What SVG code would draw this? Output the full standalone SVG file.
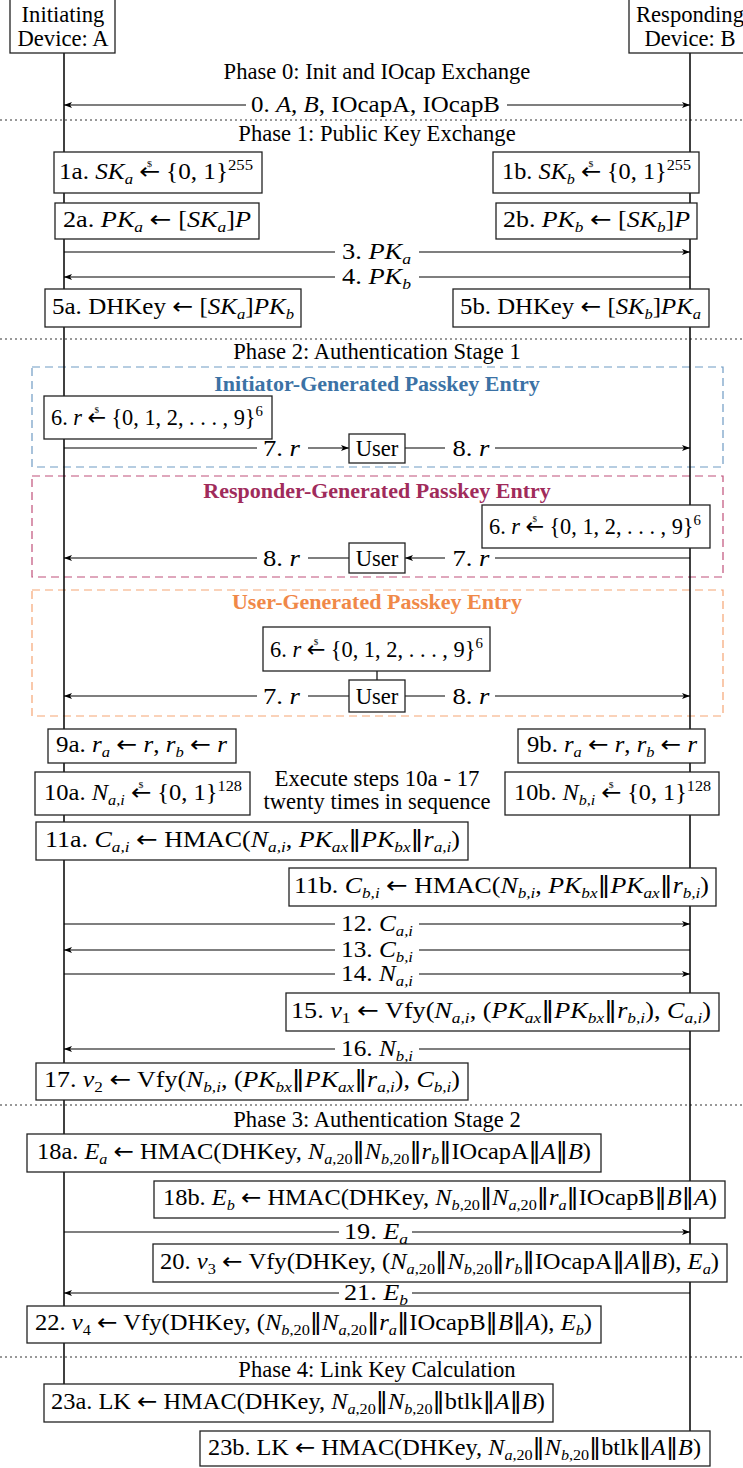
<svg xmlns="http://www.w3.org/2000/svg" width="743" height="1468" viewBox="0 0 743 1468">
<style>
.tx{font-family:"Liberation Serif","Times New Roman","DejaVu Serif",serif;font-size:22.6px;fill:#000}
.i{font-style:italic}
.sb{font-size:15px}
.dl{font-size:9px}
.op{font-family:"DejaVu Sans",sans-serif;font-style:normal}
.bx{fill:#fff;stroke:#222;stroke-width:1.3}
.ll{stroke:#000;stroke-width:1.5;fill:none}
.ar{stroke:#000;stroke-width:1.2;fill:none}
.dot{stroke:#333;stroke-width:1;stroke-dasharray:2,3}
.bg{fill:#fff}
.ttl{font-family:"Liberation Serif","Times New Roman",serif;font-size:22px;font-weight:bold}
</style>
<defs>
<marker id="ah" markerUnits="userSpaceOnUse" markerWidth="9" markerHeight="7" refX="8" refY="3.5" orient="auto-start-reverse"><path d="M0,0.5 L8,3.5 L0,6.5 L2,3.5 z" fill="#000"/></marker>
</defs>
<rect width="743" height="1468" fill="#fff"/>

<g id="phases">
<line class="dot" x1="0" y1="120" x2="743" y2="120"/>
<line class="dot" x1="0" y1="339" x2="743" y2="339"/>
<line class="dot" x1="0" y1="1105" x2="743" y2="1105"/>
<line class="dot" x1="0" y1="1357" x2="743" y2="1357"/>
<text class="tx" x="377" y="79" text-anchor="middle">Phase 0: Init and IOcap Exchange</text>
<text class="tx" x="377" y="141" text-anchor="middle">Phase 1: Public Key Exchange</text>
<text class="tx" x="377" y="359" text-anchor="middle">Phase 2: Authentication Stage 1</text>
<text class="tx" x="377" y="1127" text-anchor="middle">Phase 3: Authentication Stage 2</text>
<text class="tx" x="377" y="1377" text-anchor="middle">Phase 4: Link Key Calculation</text>
</g>

<g id="variants">
<rect x="32" y="367" width="691" height="100" fill="none" stroke="#6f9bc4" stroke-width="1.2" stroke-dasharray="8,5"/>
<text class="ttl" x="377" y="391" text-anchor="middle" fill="#3b72a5">Initiator-Generated Passkey Entry</text>
<rect x="32" y="476" width="691" height="101" fill="none" stroke="#c0507a" stroke-width="1.2" stroke-dasharray="8,5"/>
<text class="ttl" x="377" y="498" text-anchor="middle" fill="#a02b5b">Responder-Generated Passkey Entry</text>
<rect x="32" y="590" width="691" height="126" fill="none" stroke="#f5a574" stroke-width="1.2" stroke-dasharray="8,5"/>
<text class="ttl" x="377" y="609" text-anchor="middle" fill="#f08848">User-Generated Passkey Entry</text>
</g>

<g id="connectors">
<line class="ll" x1="64" y1="53" x2="64" y2="1384"/>
<line class="ll" x1="690" y1="53" x2="690" y2="1431"/>
<line class="ar" x1="64" y1="105" x2="690" y2="105" marker-start="url(#ah)" marker-end="url(#ah)"/>
<line class="ar" x1="64" y1="252" x2="690" y2="252" marker-end="url(#ah)"/>
<line class="ar" x1="690" y1="277" x2="64" y2="277" marker-end="url(#ah)"/>
<line class="ar" x1="64" y1="448" x2="349" y2="448" marker-end="url(#ah)"/>
<line class="ar" x1="405" y1="448" x2="690" y2="448" marker-end="url(#ah)"/>
<line class="ar" x1="690" y1="558" x2="405" y2="558" marker-end="url(#ah)"/>
<line class="ar" x1="349" y1="558" x2="64" y2="558" marker-end="url(#ah)"/>
<line class="ar" x1="349" y1="696" x2="64" y2="696" marker-end="url(#ah)"/>
<line class="ar" x1="405" y1="696" x2="690" y2="696" marker-end="url(#ah)"/>
<line class="ar" x1="377" y1="671" x2="377" y2="680"/>
<line class="ar" x1="64" y1="924" x2="690" y2="924" marker-end="url(#ah)"/>
<line class="ar" x1="690" y1="950" x2="64" y2="950" marker-end="url(#ah)"/>
<line class="ar" x1="64" y1="974" x2="690" y2="974" marker-end="url(#ah)"/>
<line class="ar" x1="690" y1="1049" x2="64" y2="1049" marker-end="url(#ah)"/>
<line class="ar" x1="64" y1="1232" x2="690" y2="1232" marker-end="url(#ah)"/>
<line class="ar" x1="690" y1="1293" x2="64" y2="1293" marker-end="url(#ah)"/>

<rect class="bg" x="246" y="94" width="261" height="22"/>
<rect class="bg" x="335" y="241" width="84" height="22"/>
<rect class="bg" x="335" y="266" width="84" height="22"/>
<rect class="bg" x="257" y="438" width="51" height="20"/>
<rect class="bg" x="445" y="438" width="50" height="20"/>
<rect class="bg" x="445" y="548" width="50" height="20"/>
<rect class="bg" x="257" y="548" width="51" height="20"/>
<rect class="bg" x="257" y="686" width="51" height="20"/>
<rect class="bg" x="445" y="686" width="50" height="20"/>
<rect class="bg" x="335" y="913" width="84" height="22"/>
<rect class="bg" x="335" y="939" width="84" height="22"/>
<rect class="bg" x="335" y="963" width="84" height="22"/>
<rect class="bg" x="335" y="1038" width="84" height="22"/>
<rect class="bg" x="339" y="1221" width="73" height="22"/>
<rect class="bg" x="339" y="1282" width="73" height="22"/>

<text class="tx" x="375.5" y="112" text-anchor="middle" textLength="249" lengthAdjust="spacingAndGlyphs">0. <tspan class="i">A</tspan>, <tspan class="i">B</tspan>, IOcapA, IOcapB</text>
<text class="tx" x="376.5" y="259" text-anchor="middle" textLength="69" lengthAdjust="spacingAndGlyphs">3. <tspan class="i">PK</tspan><tspan class="sb i" dy="5">a</tspan></text>
<text class="tx" x="376.5" y="284" text-anchor="middle" textLength="69" lengthAdjust="spacingAndGlyphs">4. <tspan class="i">PK</tspan><tspan class="sb i" dy="5">b</tspan></text>
<text class="tx" x="281.5" y="456" text-anchor="middle" textLength="37" lengthAdjust="spacingAndGlyphs">7. <tspan class="i">r</tspan></text>
<text class="tx" x="471" y="456" text-anchor="middle" textLength="37" lengthAdjust="spacingAndGlyphs">8. <tspan class="i">r</tspan></text>
<text class="tx" x="471" y="566" text-anchor="middle" textLength="37" lengthAdjust="spacingAndGlyphs">7. <tspan class="i">r</tspan></text>
<text class="tx" x="281.5" y="566" text-anchor="middle" textLength="37" lengthAdjust="spacingAndGlyphs">8. <tspan class="i">r</tspan></text>
<text class="tx" x="281.5" y="704" text-anchor="middle" textLength="37" lengthAdjust="spacingAndGlyphs">7. <tspan class="i">r</tspan></text>
<text class="tx" x="471" y="704" text-anchor="middle" textLength="37" lengthAdjust="spacingAndGlyphs">8. <tspan class="i">r</tspan></text>
<text class="tx" x="377" y="931" text-anchor="middle" textLength="72" lengthAdjust="spacingAndGlyphs">12. <tspan class="i">C</tspan><tspan class="sb i" dy="5">a,i</tspan></text>
<text class="tx" x="377" y="957" text-anchor="middle" textLength="72" lengthAdjust="spacingAndGlyphs">13. <tspan class="i">C</tspan><tspan class="sb i" dy="5">b,i</tspan></text>
<text class="tx" x="377" y="981" text-anchor="middle" textLength="72" lengthAdjust="spacingAndGlyphs">14. <tspan class="i">N</tspan><tspan class="sb i" dy="5">a,i</tspan></text>
<text class="tx" x="377" y="1056" text-anchor="middle" textLength="72" lengthAdjust="spacingAndGlyphs">16. <tspan class="i">N</tspan><tspan class="sb i" dy="5">b,i</tspan></text>
<text class="tx" x="376" y="1239" text-anchor="middle" textLength="64" lengthAdjust="spacingAndGlyphs">19. <tspan class="i">E</tspan><tspan class="sb i" dy="5">a</tspan></text>
<text class="tx" x="376" y="1300" text-anchor="middle" textLength="64" lengthAdjust="spacingAndGlyphs">21. <tspan class="i">E</tspan><tspan class="sb i" dy="5">b</tspan></text>
</g>

<g id="hdrA"><rect class="bx" x="10" y="-2" width="105" height="55"/>
<text class="tx" x="63" y="22" text-anchor="middle">Initiating</text>
<text class="tx" x="63" y="46" text-anchor="middle">Device: A</text></g>
<g id="hdrB"><rect class="bx" x="629" y="-2" width="120" height="55"/>
<text class="tx" x="690" y="22" text-anchor="middle">Responding</text>
<text class="tx" x="690" y="46" text-anchor="middle">Device: B</text></g>

<g id="n1a"><rect class="bx" x="54" y="152" width="208" height="41"/>
<text class="tx" x="156" y="179" text-anchor="middle" textLength="194" lengthAdjust="spacingAndGlyphs">1a. <tspan class="i">SK</tspan><tspan class="sb i" dy="5">a</tspan><tspan dy="-5"> </tspan><tspan class="op">←</tspan><tspan class="dl" dx="-12" dy="-12">$</tspan><tspan dx="7" dy="12"> {0, 1}</tspan><tspan class="sb" dy="-9">255</tspan></text></g>
<g id="n1b"><rect class="bx" x="493" y="152" width="206" height="41"/>
<text class="tx" x="596.5" y="179" text-anchor="middle" textLength="189" lengthAdjust="spacingAndGlyphs">1b. <tspan class="i">SK</tspan><tspan class="sb i" dy="5">b</tspan><tspan dy="-5"> </tspan><tspan class="op">←</tspan><tspan class="dl" dx="-12" dy="-12">$</tspan><tspan dx="7" dy="12"> {0, 1}</tspan><tspan class="sb" dy="-9">255</tspan></text></g>
<g id="n2a"><rect class="bx" x="55" y="203" width="204" height="36"/>
<text class="tx" x="157" y="227" text-anchor="middle" textLength="188" lengthAdjust="spacingAndGlyphs">2a. <tspan class="i">PK</tspan><tspan class="sb i" dy="5">a</tspan><tspan dy="-5"> </tspan><tspan class="op">←</tspan> [<tspan class="i">SK</tspan><tspan class="sb i" dy="5">a</tspan><tspan dy="-5">]</tspan><tspan class="i">P</tspan></text></g>
<g id="n2b"><rect class="bx" x="496" y="203" width="201" height="36"/>
<text class="tx" x="596.5" y="227" text-anchor="middle" textLength="187" lengthAdjust="spacingAndGlyphs">2b. <tspan class="i">PK</tspan><tspan class="sb i" dy="5">b</tspan><tspan dy="-5"> </tspan><tspan class="op">←</tspan> [<tspan class="i">SK</tspan><tspan class="sb i" dy="5">b</tspan><tspan dy="-5">]</tspan><tspan class="i">P</tspan></text></g>
<g id="n5a"><rect class="bx" x="45" y="289" width="256" height="38"/>
<text class="tx" x="173" y="314" text-anchor="middle" textLength="242" lengthAdjust="spacingAndGlyphs">5a. DHKey <tspan class="op">←</tspan> [<tspan class="i">SK</tspan><tspan class="sb i" dy="5">a</tspan><tspan dy="-5">]</tspan><tspan class="i">PK</tspan><tspan class="sb i" dy="5">b</tspan></text></g>
<g id="n5b"><rect class="bx" x="453" y="289" width="256" height="38"/>
<text class="tx" x="580.5" y="314" text-anchor="middle" textLength="241" lengthAdjust="spacingAndGlyphs">5b. DHKey <tspan class="op">←</tspan> [<tspan class="i">SK</tspan><tspan class="sb i" dy="5">b</tspan><tspan dy="-5">]</tspan><tspan class="i">PK</tspan><tspan class="sb i" dy="5">a</tspan></text></g>

<g id="n6i"><rect class="bx" x="44" y="396" width="228" height="43"/>
<text class="tx" x="157" y="425" text-anchor="middle" textLength="212" lengthAdjust="spacingAndGlyphs">6. <tspan class="i">r</tspan> <tspan class="op">←</tspan><tspan class="dl" dx="-12" dy="-12">$</tspan><tspan dx="7" dy="12"> {0, 1, 2, . . . , 9}</tspan><tspan class="sb" dy="-9">6</tspan></text></g>
<g id="userI"><rect class="bx" x="349" y="434" width="56" height="29"/>
<text class="tx" x="377" y="456" text-anchor="middle">User</text></g>

<g id="n6r"><rect class="bx" x="482" y="505" width="228" height="43"/>
<text class="tx" x="595" y="534" text-anchor="middle" textLength="212" lengthAdjust="spacingAndGlyphs">6. <tspan class="i">r</tspan> <tspan class="op">←</tspan><tspan class="dl" dx="-12" dy="-12">$</tspan><tspan dx="7" dy="12"> {0, 1, 2, . . . , 9}</tspan><tspan class="sb" dy="-9">6</tspan></text></g>
<g id="userR"><rect class="bx" x="349" y="543" width="56" height="30"/>
<text class="tx" x="377" y="566" text-anchor="middle">User</text></g>

<g id="n6u"><rect class="bx" x="263" y="627" width="227" height="44"/>
<text class="tx" x="376.5" y="657" text-anchor="middle" textLength="213" lengthAdjust="spacingAndGlyphs">6. <tspan class="i">r</tspan> <tspan class="op">←</tspan><tspan class="dl" dx="-12" dy="-12">$</tspan><tspan dx="7" dy="12"> {0, 1, 2, . . . , 9}</tspan><tspan class="sb" dy="-9">6</tspan></text></g>
<g id="userU"><rect class="bx" x="349" y="680" width="56" height="32"/>
<text class="tx" x="377" y="704" text-anchor="middle">User</text></g>

<g id="n9a"><rect class="bx" x="48" y="729" width="188" height="34"/>
<text class="tx" x="141.5" y="752" text-anchor="middle" textLength="171" lengthAdjust="spacingAndGlyphs">9a. <tspan class="i">r</tspan><tspan class="sb i" dy="5">a</tspan><tspan dy="-5"> </tspan><tspan class="op">←</tspan> <tspan class="i">r</tspan>, <tspan class="i">r</tspan><tspan class="sb i" dy="5">b</tspan><tspan dy="-5"> </tspan><tspan class="op">←</tspan> <tspan class="i">r</tspan></text></g>
<g id="n9b"><rect class="bx" x="518" y="729" width="187" height="34"/>
<text class="tx" x="612" y="752" text-anchor="middle" textLength="170" lengthAdjust="spacingAndGlyphs">9b. <tspan class="i">r</tspan><tspan class="sb i" dy="5">a</tspan><tspan dy="-5"> </tspan><tspan class="op">←</tspan> <tspan class="i">r</tspan>, <tspan class="i">r</tspan><tspan class="sb i" dy="5">b</tspan><tspan dy="-5"> </tspan><tspan class="op">←</tspan> <tspan class="i">r</tspan></text></g>

<g id="n10a"><rect class="bx" x="35" y="772" width="215" height="43"/>
<text class="tx" x="143" y="800" text-anchor="middle" textLength="198" lengthAdjust="spacingAndGlyphs">10a. <tspan class="i">N</tspan><tspan class="sb i" dy="5">a,i</tspan><tspan dy="-5"> </tspan><tspan class="op">←</tspan><tspan class="dl" dx="-12" dy="-12">$</tspan><tspan dx="7" dy="12"> {0, 1}</tspan><tspan class="sb" dy="-9">128</tspan></text></g>
<g id="loop"><text class="tx" x="377" y="786" text-anchor="middle" textLength="205" lengthAdjust="spacingAndGlyphs">Execute steps 10a - 17</text>
<text class="tx" x="377" y="809" text-anchor="middle" textLength="227" lengthAdjust="spacingAndGlyphs">twenty times in sequence</text></g>
<g id="n10b"><rect class="bx" x="505" y="772" width="214" height="43"/>
<text class="tx" x="612.5" y="800" text-anchor="middle" textLength="197" lengthAdjust="spacingAndGlyphs">10b. <tspan class="i">N</tspan><tspan class="sb i" dy="5">b,i</tspan><tspan dy="-5"> </tspan><tspan class="op">←</tspan><tspan class="dl" dx="-12" dy="-12">$</tspan><tspan dx="7" dy="12"> {0, 1}</tspan><tspan class="sb" dy="-9">128</tspan></text></g>

<g id="n11a"><rect class="bx" x="36" y="822" width="432" height="38"/>
<text class="tx" x="252.5" y="847" text-anchor="middle" textLength="415" lengthAdjust="spacingAndGlyphs">11a. <tspan class="i">C</tspan><tspan class="sb i" dy="5">a,i</tspan><tspan dy="-5"> </tspan><tspan class="op">←</tspan> HMAC(<tspan class="i">N</tspan><tspan class="sb i" dy="5">a,i</tspan><tspan dy="-5">, </tspan><tspan class="i">PK</tspan><tspan class="sb i" dy="5">ax</tspan><tspan class="op" dy="-5">‖</tspan><tspan class="i">PK</tspan><tspan class="sb i" dy="5">bx</tspan><tspan class="op" dy="-5">‖</tspan><tspan class="i">r</tspan><tspan class="sb i" dy="5">a,i</tspan><tspan dy="-5">)</tspan></text></g>
<g id="n11b"><rect class="bx" x="289" y="868" width="427" height="38"/>
<text class="tx" x="501.5" y="893" text-anchor="middle" textLength="415" lengthAdjust="spacingAndGlyphs">11b. <tspan class="i">C</tspan><tspan class="sb i" dy="5">b,i</tspan><tspan dy="-5"> </tspan><tspan class="op">←</tspan> HMAC(<tspan class="i">N</tspan><tspan class="sb i" dy="5">b,i</tspan><tspan dy="-5">, </tspan><tspan class="i">PK</tspan><tspan class="sb i" dy="5">bx</tspan><tspan class="op" dy="-5">‖</tspan><tspan class="i">PK</tspan><tspan class="sb i" dy="5">ax</tspan><tspan class="op" dy="-5">‖</tspan><tspan class="i">r</tspan><tspan class="sb i" dy="5">b,i</tspan><tspan dy="-5">)</tspan></text></g>

<g id="n15"><rect class="bx" x="286" y="993" width="433" height="38"/>
<text class="tx" x="501" y="1018" text-anchor="middle" textLength="420" lengthAdjust="spacingAndGlyphs">15. <tspan class="i">v</tspan><tspan class="sb" dy="5">1</tspan><tspan dy="-5"> </tspan><tspan class="op">←</tspan> Vfy(<tspan class="i">N</tspan><tspan class="sb i" dy="5">a,i</tspan><tspan dy="-5">, (</tspan><tspan class="i">PK</tspan><tspan class="sb i" dy="5">ax</tspan><tspan class="op" dy="-5">‖</tspan><tspan class="i">PK</tspan><tspan class="sb i" dy="5">bx</tspan><tspan class="op" dy="-5">‖</tspan><tspan class="i">r</tspan><tspan class="sb i" dy="5">b,i</tspan><tspan dy="-5">), </tspan><tspan class="i">C</tspan><tspan class="sb i" dy="5">a,i</tspan><tspan dy="-5">)</tspan></text></g>
<g id="n17"><rect class="bx" x="36" y="1063" width="432" height="37"/>
<text class="tx" x="252" y="1087" text-anchor="middle" textLength="416" lengthAdjust="spacingAndGlyphs">17. <tspan class="i">v</tspan><tspan class="sb" dy="5">2</tspan><tspan dy="-5"> </tspan><tspan class="op">←</tspan> Vfy(<tspan class="i">N</tspan><tspan class="sb i" dy="5">b,i</tspan><tspan dy="-5">, (</tspan><tspan class="i">PK</tspan><tspan class="sb i" dy="5">bx</tspan><tspan class="op" dy="-5">‖</tspan><tspan class="i">PK</tspan><tspan class="sb i" dy="5">ax</tspan><tspan class="op" dy="-5">‖</tspan><tspan class="i">r</tspan><tspan class="sb i" dy="5">a,i</tspan><tspan dy="-5">), </tspan><tspan class="i">C</tspan><tspan class="sb i" dy="5">b,i</tspan><tspan dy="-5">)</tspan></text></g>

<g id="n18a"><rect class="bx" x="27" y="1134" width="574" height="38"/>
<text class="tx" x="314" y="1159" text-anchor="middle" textLength="554" lengthAdjust="spacingAndGlyphs">18a. <tspan class="i">E</tspan><tspan class="sb i" dy="5">a</tspan><tspan dy="-5"> </tspan><tspan class="op">←</tspan> HMAC(DHKey, <tspan class="i">N</tspan><tspan class="sb" dy="5"><tspan class="i">a</tspan>,20</tspan><tspan class="op" dy="-5">‖</tspan><tspan class="i">N</tspan><tspan class="sb" dy="5"><tspan class="i">b</tspan>,20</tspan><tspan class="op" dy="-5">‖</tspan><tspan class="i">r</tspan><tspan class="sb i" dy="5">b</tspan><tspan class="op" dy="-5">‖</tspan>IOcapA<tspan class="op">‖</tspan><tspan class="i">A</tspan><tspan class="op">‖</tspan><tspan class="i">B</tspan>)</text></g>
<g id="n18b"><rect class="bx" x="154" y="1181" width="571" height="37"/>
<text class="tx" x="440" y="1205" text-anchor="middle" textLength="554" lengthAdjust="spacingAndGlyphs">18b. <tspan class="i">E</tspan><tspan class="sb i" dy="5">b</tspan><tspan dy="-5"> </tspan><tspan class="op">←</tspan> HMAC(DHKey, <tspan class="i">N</tspan><tspan class="sb" dy="5"><tspan class="i">b</tspan>,20</tspan><tspan class="op" dy="-5">‖</tspan><tspan class="i">N</tspan><tspan class="sb" dy="5"><tspan class="i">a</tspan>,20</tspan><tspan class="op" dy="-5">‖</tspan><tspan class="i">r</tspan><tspan class="sb i" dy="5">a</tspan><tspan class="op" dy="-5">‖</tspan>IOcapB<tspan class="op">‖</tspan><tspan class="i">B</tspan><tspan class="op">‖</tspan><tspan class="i">A</tspan>)</text></g>

<g id="n20"><rect class="bx" x="153" y="1244" width="574" height="38"/>
<text class="tx" x="439.5" y="1269" text-anchor="middle" textLength="559" lengthAdjust="spacingAndGlyphs">20. <tspan class="i">v</tspan><tspan class="sb" dy="5">3</tspan><tspan dy="-5"> </tspan><tspan class="op">←</tspan> Vfy(DHKey, (<tspan class="i">N</tspan><tspan class="sb" dy="5"><tspan class="i">a</tspan>,20</tspan><tspan class="op" dy="-5">‖</tspan><tspan class="i">N</tspan><tspan class="sb" dy="5"><tspan class="i">b</tspan>,20</tspan><tspan class="op" dy="-5">‖</tspan><tspan class="i">r</tspan><tspan class="sb i" dy="5">b</tspan><tspan class="op" dy="-5">‖</tspan>IOcapA<tspan class="op">‖</tspan><tspan class="i">A</tspan><tspan class="op">‖</tspan><tspan class="i">B</tspan>), <tspan class="i">E</tspan><tspan class="sb i" dy="5">a</tspan><tspan dy="-5">)</tspan></text></g>
<g id="n22"><rect class="bx" x="27" y="1306" width="574" height="37"/>
<text class="tx" x="313.5" y="1330" text-anchor="middle" textLength="557" lengthAdjust="spacingAndGlyphs">22. <tspan class="i">v</tspan><tspan class="sb" dy="5">4</tspan><tspan dy="-5"> </tspan><tspan class="op">←</tspan> Vfy(DHKey, (<tspan class="i">N</tspan><tspan class="sb" dy="5"><tspan class="i">b</tspan>,20</tspan><tspan class="op" dy="-5">‖</tspan><tspan class="i">N</tspan><tspan class="sb" dy="5"><tspan class="i">a</tspan>,20</tspan><tspan class="op" dy="-5">‖</tspan><tspan class="i">r</tspan><tspan class="sb i" dy="5">a</tspan><tspan class="op" dy="-5">‖</tspan>IOcapB<tspan class="op">‖</tspan><tspan class="i">B</tspan><tspan class="op">‖</tspan><tspan class="i">A</tspan>), <tspan class="i">E</tspan><tspan class="sb i" dy="5">b</tspan><tspan dy="-5">)</tspan></text></g>

<g id="n23a"><rect class="bx" x="44" y="1384" width="509" height="38"/>
<text class="tx" x="298" y="1409" text-anchor="middle" textLength="494" lengthAdjust="spacingAndGlyphs">23a. LK <tspan class="op">←</tspan> HMAC(DHKey, <tspan class="i">N</tspan><tspan class="sb" dy="5"><tspan class="i">a</tspan>,20</tspan><tspan class="op" dy="-5">‖</tspan><tspan class="i">N</tspan><tspan class="sb" dy="5"><tspan class="i">b</tspan>,20</tspan><tspan class="op" dy="-5">‖</tspan>btlk<tspan class="op">‖</tspan><tspan class="i">A</tspan><tspan class="op">‖</tspan><tspan class="i">B</tspan>)</text></g>
<g id="n23b"><rect class="bx" x="200" y="1431" width="510" height="35"/>
<text class="tx" x="454.5" y="1455" text-anchor="middle" textLength="493" lengthAdjust="spacingAndGlyphs">23b. LK <tspan class="op">←</tspan> HMAC(DHKey, <tspan class="i">N</tspan><tspan class="sb" dy="5"><tspan class="i">a</tspan>,20</tspan><tspan class="op" dy="-5">‖</tspan><tspan class="i">N</tspan><tspan class="sb" dy="5"><tspan class="i">b</tspan>,20</tspan><tspan class="op" dy="-5">‖</tspan>btlk<tspan class="op">‖</tspan><tspan class="i">A</tspan><tspan class="op">‖</tspan><tspan class="i">B</tspan>)</text></g>
</svg>
